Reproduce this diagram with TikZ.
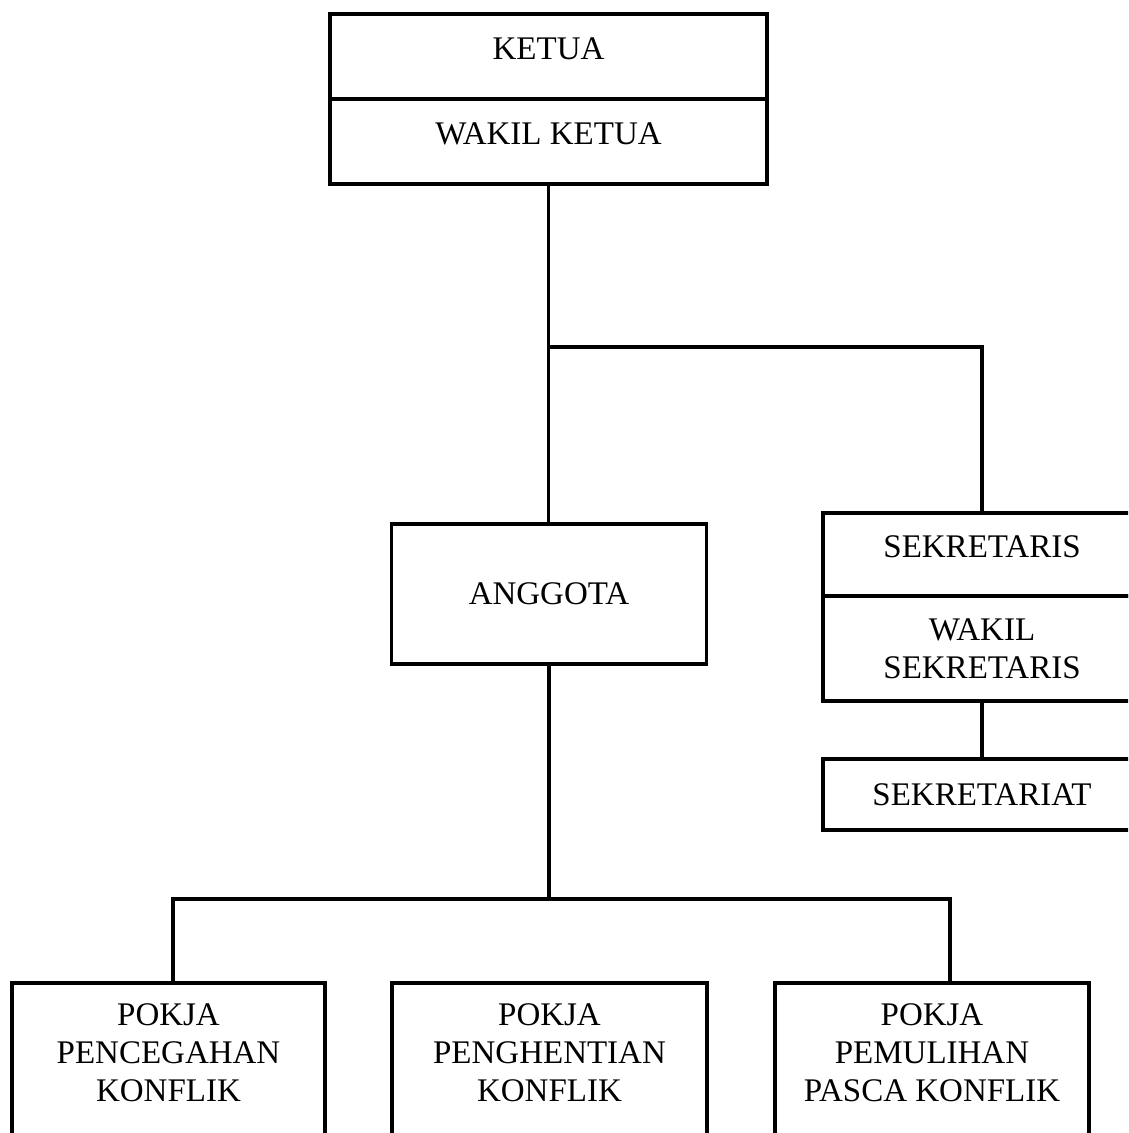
\documentclass[tikz,border=0pt]{standalone}
\usepackage{fontspec}
\setmainfont{Liberation Serif}
\usetikzlibrary{calc}
\begin{document}
\begin{tikzpicture}[x=1pt,y=-1pt,
  box/.style={draw=black, line width=3.8pt, inner sep=0pt, align=center,
    font=\fontsize{33}{38}\selectfont},
  raised/.style={text depth=16pt},
  txt/.style={inner sep=0pt, align=center, font=\fontsize{33}{38}\selectfont},
  conn/.style={draw=black, line width=3.8pt, line join=miter}]
\useasboundingbox (0,0) rectangle (1128,1133);
\clip (0,0) rectangle (1128,1133);
\fill[white] (0,0) rectangle (1128,1133);
% top
\node[box, raised, minimum width=437pt, minimum height=85pt] (ketua) at (548.5,56.5) {KETUA};
\node[box, raised, minimum width=437pt, minimum height=85pt] (wakil) at (548.5,141.5) {WAKIL KETUA};
% anggota
\node[box, minimum width=315pt, minimum height=140pt] (anggota) at (549,594) {ANGGOTA};
% sekretaris
\node[box, raised, minimum width=318pt, minimum height=83pt] (sek) at (982,554.5) {SEKRETARIS};
\node[box, minimum width=318pt, minimum height=105pt] (wsek) at (982,648.5) {WAKIL\\SEKRETARIS};
\node[box, minimum width=318pt, minimum height=71pt] (sekt) at (982,794.5) {SEKRETARIAT};
% pokja boxes
\node[box, minimum width=313pt, minimum height=300pt, anchor=north] (p1) at (168.5,981) {};
\node[box, minimum width=315pt, minimum height=300pt, anchor=north] (p2) at (549.5,981) {};
\node[box, minimum width=314pt, minimum height=300pt, anchor=north] (p3) at (932,981) {};
\node[txt] (p1t) at (168.5,1053) {POKJA\\PENCEGAHAN\\KONFLIK};
\node[txt] (p2t) at (549.5,1053) {POKJA\\PENGHENTIAN\\KONFLIK};
\node[txt] (p3t) at (932,1053) {POKJA\\PEMULIHAN\\PASCA KONFLIK};
% connectors
\coordinate (j1) at (548.5,347);
\coordinate (hl) at (173,899);
\coordinate (hr) at (950,899);
\draw[conn] (wakil.south) -- (j1) -- (j1 |- anggota.north);
\draw[conn] (j1) -| (sek.north);
\draw[conn] (wsek.south) -- (sekt.north);
\draw[conn] (anggota.south) -- (anggota.south |- hl);
\draw[conn] (p1.north -| hl) -- (hl) -- (hr) -- (hr |- p3.north);
\end{tikzpicture}
\end{document}
